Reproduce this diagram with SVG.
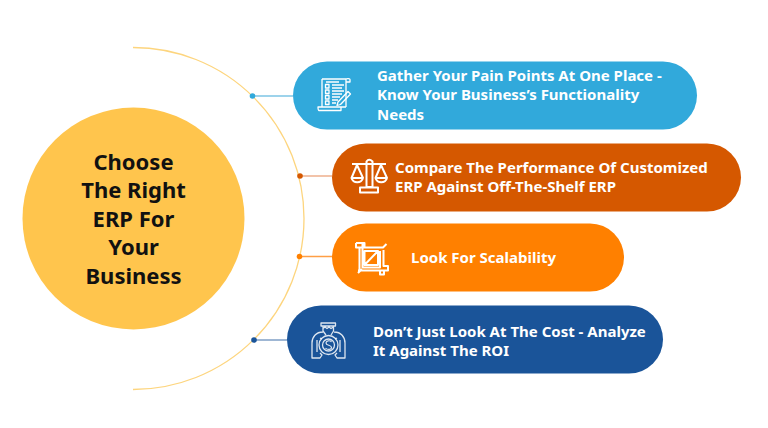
<svg xmlns="http://www.w3.org/2000/svg" width="768" height="428" viewBox="0 0 768 428">
<style>
text{font-family:"Noto Sans","Open Sans",sans-serif;font-weight:700}
.t{font-size:15px;fill:#fff}
.c{font-size:22px;fill:#111;text-anchor:middle}
.i{fill:none;stroke:#fff;stroke-width:1.3;stroke-linejoin:round}
.b{stroke-width:2}
.l{stroke-width:1.3;fill:none}
</style>
<rect width="768" height="428" fill="#fff"/>
<path d="M133 47.500A171 171 0 0 1 133 389.500" fill="none" stroke="#fdd57e" stroke-width="1.3"/>
<g id="connectors">
<path class="l" d="M253 96H293" stroke="#7cc4e4"/><circle cx="252.500" cy="96" r="2.800" fill="#31a9db"/>
<path class="l" d="M300 176H332" stroke="#eba27a"/><circle cx="300" cy="176" r="2.800" fill="#d55800"/>
<path class="l" d="M299 256.500H332" stroke="#ff9f45"/><circle cx="299.500" cy="256.500" r="2.800" fill="#ff8000"/>
<path class="l" d="M254 340H287" stroke="#7f9fc6"/><circle cx="254" cy="340" r="2.800" fill="#1a5499"/>
</g>
<g id="center"><circle cx="133.500" cy="218.500" r="111" fill="#ffc54d"/>
<text class="c" x="133.500" y="169.500">Choose</text><text class="c" x="133.500" y="198">The Right</text><text class="c" x="133.500" y="226.500">ERP For</text><text class="c" x="133.500" y="255">Your</text><text class="c" x="133.500" y="283.500">Business</text></g>
<g id="n1"><rect x="293" y="61.500" width="404" height="68" rx="34" fill="#31a9db"/>
<path class="i" d="M322 79H346V107M346 82H350V79.500C350 78.500 347 78.500 346 79M322 79V107M318 107H341V110.500H319C318 110.500 318 108 318 107ZM341 107H346"/>
<path class="i" d="M326 82H339M332 85H344M332 88H342M332 91H344M332 94H342M332 97H340M332 100H338M332 103H336M325.500 84.500h3.500v3.500h-3.500zM325.500 90h3.500v3.500h-3.500zM325.500 95.500h3.500v3.500h-3.500zM325.500 101h3.500v3.500h-3.500zM337 105.500l1-3.500 10-10.500 2.500 2.500-10 10.500z"/>
<text class="t" x="377" y="80.500">Gather Your Pain Points At One Place -</text><text class="t" x="377" y="100">Know Your Business’s Functionality</text><text class="t" x="377" y="119.500">Needs</text></g>
<g id="n2"><rect x="332" y="143.500" width="409" height="68" rx="34" fill="#d55800"/>
<path class="i b" d="M366.500 161.500Q369 158 372.500 161.500V187H366.500ZM360 187.500H378V192.500H360ZM352 164L386 164M357 165L351.500 178H363ZM357 165V165M381 165L375.500 178H387ZM351.500 178A6 6 0 0 0 363 178ZM375.500 178A6 6 0 0 0 387 178Z"/>
<text class="t" x="395" y="172.500">Compare The Performance Of Customized</text><text class="t" x="395" y="192">ERP Against Off-The-Shelf ERP</text></g>
<g id="n3"><rect x="332" y="223.500" width="292" height="68" rx="34" fill="#ff8000"/>
<path class="i b" d="M356 243H364.500V247M356 243V247.500H383L386.500 244M359.500 247.500V270.500H358M362.500 243V267.500H380V251M359.500 270.500H388V266H383.500V250M364.500 251H378V265H364.500ZM364.500 265L378 251M380 271V274.500H384V271M358 273L362 269"/>
<text class="t" x="411" y="262.500">Look For Scalability</text></g>
<g id="n4"><rect x="287" y="305.500" width="376" height="68" rx="34" fill="#1a5499"/>
<g class="i" stroke-opacity=".85"><circle cx="328.500" cy="345" r="9.500"/><circle cx="328.500" cy="345" r="6"/><path d="M321 323H335.500V326H321ZM323 326V331L326 335M333.500 326V331L331 335M323 328.500L325 327L327 328.500L329 327L331 328.500L333.500 327M323 332C316 332 312 337 312 343V358H320L322 355L320 353M334 332C341 332 345 337 345 343V358H337L335 355L337 353M317 340V352M340 340V352M320 338L322 339M337 338L335 339"/><path d="M331.500 342C330 340 326 340.500 326 343C326 346 331.500 344.500 331.500 347.500C331.500 350 327 350 325.500 348" stroke-width="1.200"/></g>
<text class="t" x="373" y="336.500">Don’t Just Look At The Cost - Analyze</text><text class="t" x="373" y="356">It Against The ROI</text></g>
</svg>
